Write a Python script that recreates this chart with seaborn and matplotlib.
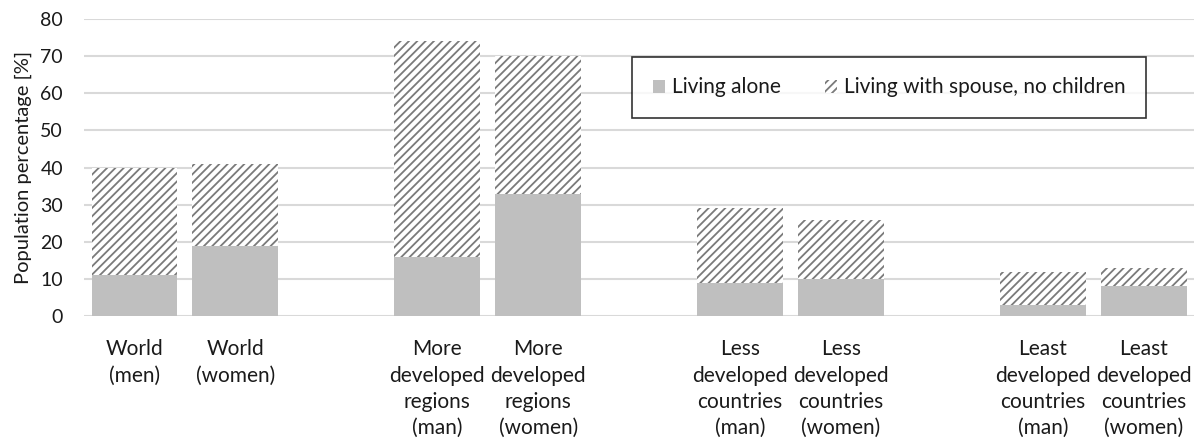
import pandas as pd
import matplotlib
matplotlib.use("Agg")
import matplotlib.pyplot as plt
import seaborn as sns
from matplotlib.patches import Patch

# Data
categories = ["World\n(men)", "World\n(women)",
              "More\ndeveloped\nregions\n(man)", "More\ndeveloped\nregions\n(women)",
              "Less\ndeveloped\ncountries\n(man)", "Less\ndeveloped\ncountries\n(women)",
              "Least\ndeveloped\ncountries\n(man)", "Least\ndeveloped\ncountries\n(women)"]
living_alone = [11, 19, 16, 33, 9, 10, 3, 8]
with_spouse = [29, 22, 58, 37, 20, 16, 9, 5]

# empty slots between the groups
order = [categories[0], categories[1], "gap1",
         categories[2], categories[3], "gap2",
         categories[4], categories[5], "gap3",
         categories[6], categories[7]]

df = pd.DataFrame({"category": categories,
                   "alone": living_alone,
                   "spouse": with_spouse})
df["total"] = df["alone"] + df["spouse"]

sns.set_theme(style="white")
plt.rcParams["font.family"] = ["Lato", "DejaVu Sans"]
plt.rcParams["hatch.color"] = "#7a7a7a"
plt.rcParams["hatch.linewidth"] = 1.3

fig, ax = plt.subplots(figsize=(11.99, 4.41), dpi=100)
fig.subplots_adjust(left=0.070, right=0.996, top=0.957, bottom=0.283)

# hatched total first, solid "alone" part on top of it
sns.barplot(data=df, x="category", y="total", order=order, color="white",
            saturation=1, width=0.85, hatch="////", edgecolor="#7a7a7a",
            linewidth=0, ax=ax)
sns.barplot(data=df, x="category", y="alone", order=order, color="#bfbfbf",
            saturation=1, width=0.85, linewidth=0, ax=ax)

ax.set_ylim(0, 80)
ax.set_yticks(range(0, 81, 10))
ax.yaxis.grid(True, color="#d9d9d9", linewidth=1.5)
ax.set_axisbelow(True)
for s in ax.spines.values():
    s.set_visible(False)

ax.set_xticks(range(len(order)))
ax.set_xticklabels([c if not c.startswith("gap") else "" for c in order],
                   fontsize=15, color="#1a1a1a", linespacing=1.4)
ax.tick_params(axis="y", labelsize=14, labelcolor="#1a1a1a", length=0, pad=15)
ax.tick_params(axis="x", length=0, pad=16.5)
ax.set_xlabel("")
ax.set_ylabel("Population percentage [%]", fontsize=14.5, color="#1a1a1a",
              labelpad=6)

handles = [Patch(facecolor="#bfbfbf", linewidth=0, label="Living alone"),
           Patch(facecolor="white", edgecolor="#7a7a7a", hatch="////",
                 linewidth=0, label="Living with spouse, no children")]
leg = ax.legend(handles=handles, loc="center",
                bbox_to_anchor=(0.4937, 0.667, 0.463, 0.205), mode="expand",
                ncol=2, fontsize=15, frameon=True, fancybox=False,
                edgecolor="black", borderpad=1.0, handlelength=0.6,
                handleheight=0.6, handletextpad=0.3, borderaxespad=0)
leg.get_frame().set_linewidth(1.2)
for t in leg.get_texts():
    t.set_color("#1a1a1a")

fig.savefig("out.png", dpi=100)
